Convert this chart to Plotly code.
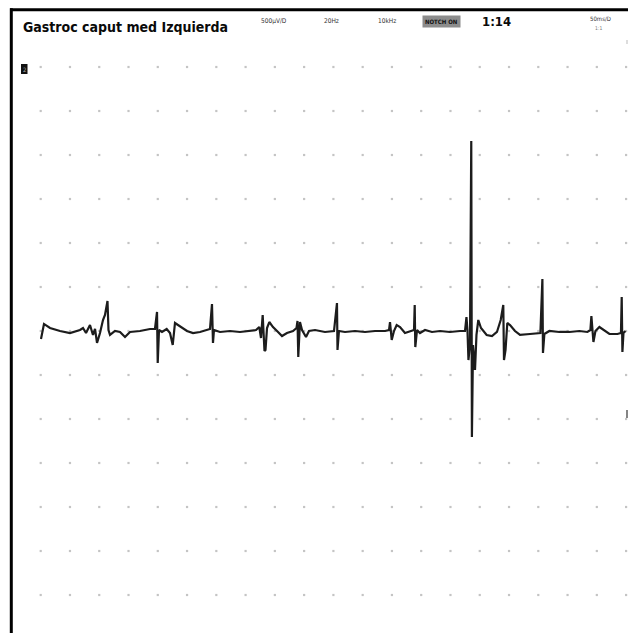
import plotly.graph_objects as go

W, H = 628, 633

# EMG trace: time (ms) and amplitude (µV); 50 ms/div, 500 µV/div
time_ms = [0.5, 5.6, 15.9, 33.0, 50.0, 67.1, 72.3, 77.4, 84.2, 89.3, 92.8, 96.2, 101.3, 106.4, 109.8,
           114.1, 115.8, 118.4, 126.9, 135.5, 144.0, 152.5, 169.6, 186.7, 195.2, 198.7, 199.9, 202.1,
           207.2, 215.2, 220.9, 225.5, 229.4, 237.9, 249.9, 260.2, 272.1, 289.2, 292.6, 294.3, 296.0,
           306.3, 323.3, 340.4, 357.5, 367.8, 373.4, 376.3, 379.2, 382.3, 384.0, 386.6, 390.5, 396.8,
           405.4, 412.2, 420.7, 431.0, 437.0, 438.7, 440.0, 442.9, 446.4, 453.2, 458.3, 468.6, 485.6,
           501.0, 506.1, 507.0, 509.5, 519.8, 536.9, 554.0, 571.1, 588.2, 595.0, 596.7, 599.6, 603.5,
           608.1, 613.8, 622.3, 630.9, 637.7, 638.9, 639.9, 642.8, 647.9, 656.5, 668.4, 682.1, 699.1,
           716.2, 724.8, 727.3, 729.0, 730.7, 733.3, 735.5, 736.6, 738.5, 741.9, 744.4, 747.5, 752.1,
           761.8, 770.9, 779.4, 785.8, 790.2, 791.4, 794.0, 797.1, 801.7, 810.2, 818.8, 835.8, 853.6,
           857.0, 858.0, 860.4, 868.9, 886.0, 903.1, 920.2, 933.9, 939.0, 940.7, 944.2, 947.6, 954.4,
           961.3, 971.5, 985.2, 991.2, 992.5, 993.7, 995.5, 998.9]
amp_uv = [-91, 80, 34, 0, -23, 11, 34, -23, 68, -45, 23, -136, -23, 125, 182,
          341, 11, -45, 0, -11, -68, -11, 0, 23, 23, 216, -364, 11,
          -11, 23, -23, -159, 91, 57, 0, -23, -11, 23, 307, -136, 11,
          -11, 0, -11, 0, 11, 45, -80, 182, -227, -216, 34, 102, 45,
          -11, -57, -23, 0, 34, 114, -295, 102, 11, -68, 0, 11, -11,
          0, 318, -216, 0, -11, 0, -11, 0, 0, 11, 102, -102, 0,
          68, 45, -23, 0, 11, 295, -182, 11, -23, 11, -11, 0, -11,
          0, 0, 159, 11, -330, -159, 2159, -1205, -159, -443, -45, 125, 34,
          -45, -57, -11, 125, 295, -330, -216, 91, 68, 0, -45, -34, -23,
          591, -250, -34, 0, -11, -11, 0, -11, 11, 170, -125, 0, 45,
          11, -34, -34, -23, 386, -239, -23, 0]

# grid divisions
grid_time_ms = [i * 50 for i in range(21)]
grid_amp_uv = [3000 - i * 500 for i in range(13)]

title_text = "Gastroc caput med Izquierda"
header_labels = ["500µV/D", "20Hz", "10kHz"]
notch_label = "NOTCH ON"
screen_label = "1:14"
sweep_label = "50ms/D"
sweep_sub = "1:1"

gx = [t for a in grid_amp_uv for t in grid_time_ms]
gy = [a for a in grid_amp_uv for t in grid_time_ms]

fig = go.Figure()
fig.add_trace(go.Scatter(x=gx, y=gy, mode="markers",
                         marker=dict(symbol="square", size=2.2, color="#c4c4c4", line=dict(width=0)),
                         hoverinfo="skip", showlegend=False))
fig.add_trace(go.Scatter(x=time_ms, y=amp_uv, mode="lines",
                         line=dict(color="#1c1c1c", width=2.2),
                         showlegend=False))

def px(x):
    return x / W

def py(y):
    return 1 - y / H

cond = "DejaVu Sans Condensed, Liberation Sans Narrow, sans-serif"

ann = []
ann.append(dict(x=px(21), y=py(27), text="<b>" + title_text + "</b>", xanchor="left", yanchor="middle",
                font=dict(family=cond, size=14, color="#0a0a0a")))
for lab, cx in zip(header_labels, [274, 331, 387]):
    ann.append(dict(x=px(cx), y=py(21), text=lab, xanchor="center", yanchor="middle",
                    font=dict(family=cond, size=6.5, color="#333")))
ann.append(dict(x=px(441.5), y=py(21), text="<b>" + notch_label + "</b>", xanchor="center", yanchor="middle",
                font=dict(family=cond, size=6, color="#111"), bgcolor="#8c8c8c", borderpad=2))
ann.append(dict(x=px(480), y=py(21), text="<b>" + screen_label + "</b>", xanchor="left", yanchor="middle",
                font=dict(family=cond, size=13, color="#0a0a0a")))
ann.append(dict(x=px(600), y=py(18.5), text=sweep_label, xanchor="center", yanchor="middle",
                font=dict(family=cond, size=6, color="#333")))
ann.append(dict(x=px(598.5), y=py(28), text=sweep_sub, xanchor="center", yanchor="middle",
                font=dict(family=cond, size=5, color="#777")))
ann.append(dict(x=px(24), y=py(69), text="2", xanchor="center", yanchor="middle",
                font=dict(family=cond, size=6, color="#aaa")))
for a in ann:
    a.update(xref="paper", yref="paper", showarrow=False)

shapes = [
    dict(type="line", xref="paper", yref="paper", x0=px(10), x1=1, y0=py(9.7), y1=py(9.7),
         line=dict(color="black", width=3)),
    dict(type="line", xref="paper", yref="paper", x0=px(11.3), x1=px(11.3), y0=py(8.3), y1=0,
         line=dict(color="black", width=3)),
    dict(type="rect", xref="paper", yref="paper", x0=px(21), x1=px(27.5), y0=py(74), y1=py(64),
         fillcolor="#111", line=dict(width=0), layer="below"),
    dict(type="line", xref="paper", yref="paper", x0=px(627), x1=px(627), y0=py(410), y1=py(418),
         line=dict(color="#333", width=1.2)),
    dict(type="line", xref="paper", yref="paper", x0=px(627), x1=px(627), y0=py(40), y1=py(44),
         line=dict(color="#bbb", width=1)),
]

t0 = (0 - 40.7) / 29.27 * 50
t1 = (W - 40.7) / 29.27 * 50
a0 = (331 - H) / 44 * 500
a1 = 331 / 44 * 500

fig.update_layout(
    width=W, height=H,
    margin=dict(l=0, r=0, t=0, b=0),
    paper_bgcolor="white", plot_bgcolor="white",
    xaxis=dict(range=[t0, t1], visible=False, showgrid=False, zeroline=False),
    yaxis=dict(range=[a0, a1], visible=False, showgrid=False, zeroline=False),
    annotations=ann, shapes=shapes,
    showlegend=False,
)

fig.write_html("out.html", config={"displayModeBar": False},
               post_script="document.body.style.margin='0';document.body.style.padding='0';document.body.style.overflow='hidden';")
